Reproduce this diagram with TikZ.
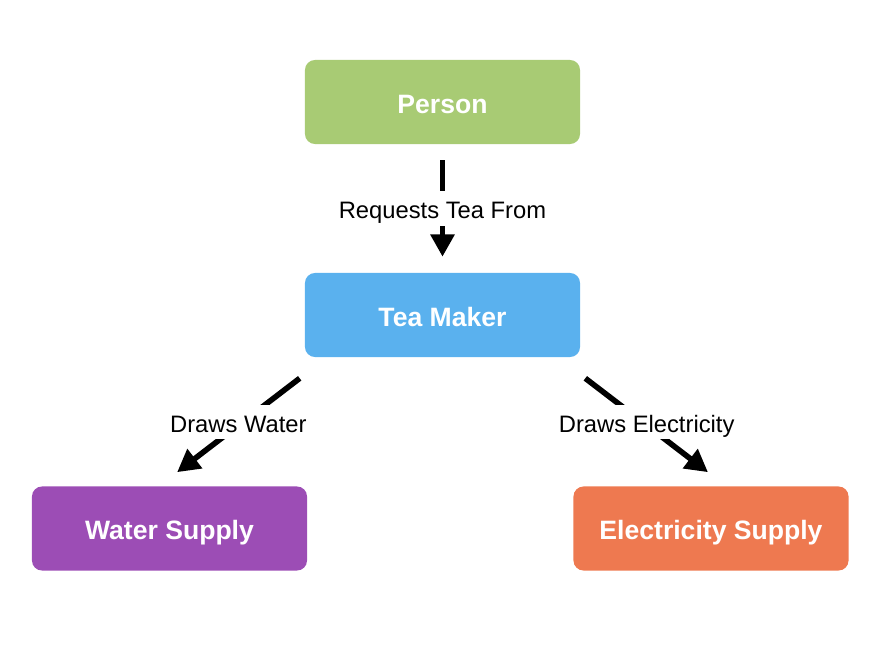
\documentclass[tikz,border=0pt]{standalone}
\usepackage{fontspec}
\setmainfont{Liberation Sans}
\usetikzlibrary{arrows.meta}

\definecolor{personcol}{HTML}{A8CB74}
\definecolor{makercol}{HTML}{5AB1EE}
\definecolor{watercol}{HTML}{9C4DB5}
\definecolor{powercol}{HTML}{EE7950}

\tikzset{
  box/.style={rounded corners=0.25cm, minimum width=6.875cm, minimum height=2.1cm,
    text=white, text height=0.55cm, text depth=0cm,
    font=\fontsize{18.9}{22}\selectfont\bfseries},
  link/.style={line width=0.14cm, -{Triangle[width=0.58cm,length=0.56cm]}},
  linklabel/.style={fill=white, inner xsep=3pt, inner ysep=0.18cm,
    text height=0.5cm, text depth=0cm,
    font=\fontsize{16.9}{20}\selectfont}
}

\begin{document}
\begin{tikzpicture}[x=0.025cm, y=-0.025cm]
			\useasboundingbox (0,0) rectangle (886,662);
			\node[box, fill=personcol] (person) at (442.5,102) {Person};
			\node[box, fill=makercol] (teamaker) at (442.5,315) {Tea Maker};
			\node[box, fill=watercol] (water) at (169.5,528.5) {Water Supply};
			\node[box, fill=powercol] (power) at (711,528.5) {Electricity Supply};
			\coordinate (p1) at ([yshift=-0.4cm]person.south);
			\coordinate (p2) at ([yshift=0.4cm]teamaker.north);
			\coordinate (w1) at ([xshift=-0.125cm, yshift=-0.525cm]teamaker.south west);
			\coordinate (w2) at ([xshift=0.19cm, yshift=0.35cm]water.north);
			\coordinate (e1) at ([xshift=0.125cm, yshift=-0.525cm]teamaker.south east);
			\coordinate (e2) at ([xshift=-0.075cm, yshift=0.35cm]power.north);
			\draw[link] (p1) -- node[linklabel] {Requests Tea From} (p2);
			\draw[link] (w1) -- node[linklabel, yshift=0.08cm] {Draws Water} (w2);
			\draw[link] (e1) -- node[linklabel, yshift=0.08cm] {Draws Electricity} (e2);
		\end{tikzpicture}
\end{document}
